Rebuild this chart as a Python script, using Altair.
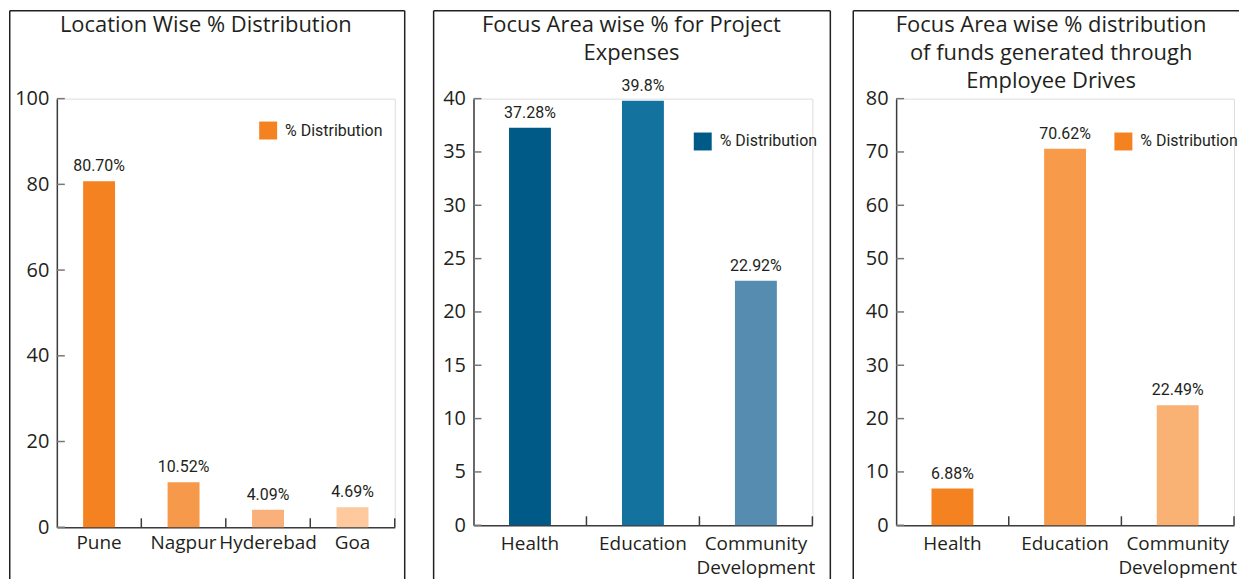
import altair as alt
import pandas as pd

TITLE_FONT = "Open Sans"
COND_FONT = "Roboto"
INK = "#231F20"
AXIS_INK = "#3C3C3C"
TICK_GRAY = "#777777"
SERIES = "% Distribution"

# ---- Panel 1: Location wise ----
loc_title = ["Location Wise % Distribution"]
loc_categories = ["Pune", "Nagpur", "Hyderebad", "Goa"]
loc_values = [80.70, 10.52, 4.09, 4.69]
loc_labels = ["80.70%", "10.52%", "4.09%", "4.69%"]
loc_colors = ["#F58220", "#F7994A", "#F9B07A", "#FDC99D"]
loc_ticks = [0, 20, 40, 60, 80, 100]
loc_swatch = "#F58220"

# ---- Panel 2: Project expenses ----
proj_title = ["Focus Area wise % for Project", "Expenses"]
proj_categories = ["Health", "Education", "Community Development"]
proj_values = [37.28, 39.8, 22.92]
proj_labels = ["37.28%", "39.8%", "22.92%"]
proj_colors = ["#005A87", "#13739E", "#578CB1"]
proj_ticks = [0, 5, 10, 15, 20, 25, 30, 35, 40]
proj_swatch = "#005A87"

# ---- Panel 3: Employee drives ----
emp_title = ["Focus Area wise % distribution", "of funds generated through", "Employee Drives"]
emp_categories = ["Health", "Education", "Community Development"]
emp_values = [6.88, 70.62, 22.49]
emp_labels = ["6.88%", "70.62%", "22.49%"]
emp_colors = ["#F58220", "#F79A4A", "#F9B174"]
emp_ticks = [0, 10, 20, 30, 40, 50, 60, 70, 80]
emp_swatch = "#F58220"


def frame_rule(**enc):
    return alt.Chart(alt.Data(values=[{"f": 1}])).mark_rule(
        color=INK, strokeWidth=1.5
    ).encode(**{k: alt.value(v) for k, v in enc.items()})


def panel(title, cats, vals, labels, colors, ticks, swatch, W, H, frame,
          right_side, title_x, legend_xy, xlab_pad, band_frac):
    df = pd.DataFrame({"cat": cats, "v": vals, "lab": labels})
    x_axis = alt.Axis(
        title=None, labelAngle=0, ticks=False, tickSize=0, domain=True,
        domainColor=AXIS_INK, domainWidth=1.5, labelFont=TITLE_FONT,
        labelFontSize=19, labelColor=INK, labelPadding=xlab_pad,
        labelLineHeight=24,
        labelExpr="datum.label == 'Community Development' ? ['Community', 'Development'] : datum.label",
    )
    y_axis = alt.Axis(
        title=None, values=ticks, ticks=False, tickSize=0, grid=False,
        domain=True, domainColor=AXIS_INK, domainWidth=1.5,
        labelFont=TITLE_FONT, labelFontSize=20, labelColor=INK,
        labelPadding=8, format="d",
    )
    x_scale = alt.Scale(domain=cats, paddingInner=0, paddingOuter=0)
    y_scale = alt.Scale(domain=[0, ticks[-1]], nice=False, zero=True)

    def xenc(**kw):
        return alt.X("cat:N", sort=cats, scale=x_scale, axis=x_axis, **kw)

    yenc = alt.Y("v:Q", scale=y_scale, axis=y_axis)

    L, R, T, B = frame
    frames = [
        frame_rule(x=L, y=T, y2=B),
        frame_rule(x=L, x2=R, y=T),
    ]
    if right_side:
        frames.append(frame_rule(x=R, y=T, y2=B))

    bars = alt.Chart(df).mark_bar(width=alt.RelativeBandSize(band_frac)).encode(
        x=xenc(), y=yenc,
        color=alt.Color("cat:N", sort=cats,
                        scale=alt.Scale(domain=cats, range=colors), legend=None),
    )

    values_text = alt.Chart(df).mark_text(
        baseline="alphabetic", dy=-10, font=COND_FONT, fontSize=16, color=INK
    ).encode(x=xenc(), y=yenc, text="lab:N")

    ytick_rules = alt.Chart(pd.DataFrame({"v": ticks})).mark_rule(
        color=TICK_GRAY, strokeWidth=1.5
    ).encode(y=yenc, x=alt.value(0), x2=alt.value(8))

    xtick_rules = alt.Chart(pd.DataFrame({"cat": cats})).mark_rule(
        color=AXIS_INK, strokeWidth=1.5
    ).encode(x=xenc(bandPosition=1), y=alt.value(H - 9), y2=alt.value(H))

    legend_layer = alt.Chart(
        pd.DataFrame({"cat": [cats[0]], "v": [0], "s": [SERIES]})
    ).mark_bar(width=alt.RelativeBandSize(band_frac)).encode(
        x=xenc(), y=yenc,
        color=alt.Color("s:N", scale=alt.Scale(domain=[SERIES], range=[swatch]),
                        legend=alt.Legend(
                            title=None, orient="none",
                            legendX=legend_xy[0], legendY=legend_xy[1],
                            symbolType="square", symbolSize=324,
                            symbolStrokeWidth=0, labelFont=COND_FONT,
                            labelFontSize=16, labelColor=INK, labelOffset=8,
                            padding=0,
                        )),
    )

    title_layer = alt.Chart(alt.Data(values=[{"f": 1}])).mark_text(
        text=title, font=TITLE_FONT, fontSize=22, color=INK, align="center",
        baseline="alphabetic", lineHeight=28,
    ).encode(x=alt.value(title_x), y=alt.value(-67))

    return alt.layer(
        *frames, bars, legend_layer, values_text, ytick_rules, xtick_rules,
        title_layer,
    ).resolve_scale(color="independent").properties(width=W, height=H)


p1 = panel(loc_title, loc_categories, loc_values, loc_labels, loc_colors,
           loc_ticks, loc_swatch, W=339, H=430, frame=(-47.25, 349, -88.25, 482),
           right_side=True, title_x=149.5, legend_xy=(203, 23), xlab_pad=6,
           band_frac=0.378)
p2 = panel(proj_title, proj_categories, proj_values, proj_labels, proj_colors,
           proj_ticks, proj_swatch, W=340, H=428, frame=(-40, 358, -88.25, 482),
           right_side=True, title_x=158.5, legend_xy=(221, 34), xlab_pad=9,
           band_frac=0.371)
p3 = panel(emp_title, emp_categories, emp_values, emp_labels, emp_colors,
           emp_ticks, emp_swatch, W=339, H=428, frame=(-43, 344, -88.25, 482),
           right_side=False, title_x=155.5, legend_xy=(219, 34), xlab_pad=9,
           band_frac=0.372)

chart = alt.hconcat(
    alt.hconcat(p1, p2, spacing=25),
    p3,
    spacing=19,
).properties(padding=0).configure_view(stroke=None).configure(background="white")

chart.save("out.html", embed_options={"renderer": "svg", "actions": False})
